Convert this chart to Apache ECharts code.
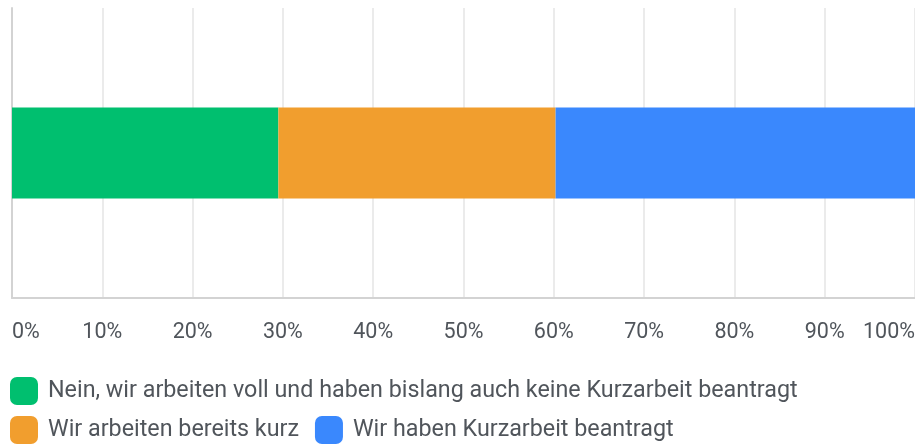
<!DOCTYPE html>
<html>
<head>
<meta charset="utf-8">
<script src="https://cdn.jsdelivr.net/npm/echarts@6/dist/echarts.min.js"></script>
<style>
  html, body { margin: 0; padding: 0; background: #fff; }
  #chart { width: 915px; height: 444px; }
</style>
</head>
<body>
<div id="chart"></div>
<script>
// Data
const categories = ['Antworten'];
const seriesNames = [
    'Nein, wir arbeiten voll und haben bislang auch keine Kurzarbeit beantragt',
    'Wir arbeiten bereits kurz',
    'Wir haben Kurzarbeit beantragt'
];
const seriesValues = [29.5, 30.7, 39.8];
const seriesColors = ['#00bf6f', '#f19e2e', '#3a88fd'];

const chart = echarts.init(document.getElementById('chart'));

const textColor = '#50555b';
const font = 'Roboto, "Noto Sans", sans-serif';

const series = seriesNames.map((name, i) => ({
    name: name,
    type: 'bar',
    stack: 'total',
    data: [seriesValues[i]],
    barWidth: 91,
    itemStyle: { color: seriesColors[i] }
}));

chart.setOption({
    backgroundColor: '#ffffff',
    animation: false,
    grid: { left: 12, right: 0, top: 8, bottom: 146, containLabel: false, outerBoundsMode: 'none' },
    xAxis: {
        type: 'value',
        min: 0,
        max: 100,
        interval: 10,
        axisLine: { show: true, lineStyle: { color: '#d3d3d3', width: 2 } },
        axisTick: { show: false },
        splitLine: { show: true, lineStyle: { color: '#ebebeb', width: 2 } },
        axisLabel: {
            color: textColor,
            fontSize: 21.5,
            fontFamily: font,
            margin: 24,
            formatter: '{value}%',
            alignMinLabel: 'left',
            alignMaxLabel: 'right'
        }
    },
    yAxis: {
        type: 'category',
        data: categories,
        axisLine: { show: true, lineStyle: { color: '#d3d3d3', width: 2 } },
        axisTick: { show: false },
        axisLabel: { show: false }
    },
    legend: {
        left: 10,
        top: 377,
        right: 0,
        itemWidth: 28,
        itemHeight: 28,
        itemGap: 11,
        icon: 'roundRect',
        padding: 0,
        textStyle: {
            color: textColor,
            fontSize: 23.3,
            fontFamily: font,
            lineHeight: 28,
            padding: [0, 5, 0, 5]
        },
        data: seriesNames
    },
    series: series
});
</script>
</body>
</html>
